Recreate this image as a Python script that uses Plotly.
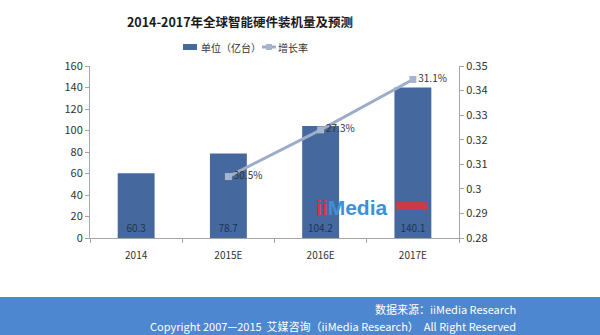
import plotly.graph_objects as go

categories = ["2014", "2015E", "2016E", "2017E"]
units = [60.3, 78.7, 104.2, 140.1]
unit_labels = ["60.3", "78.7", "104.2", "140.1"]
growth_cats = ["2015E", "2016E", "2017E"]
growth = [0.305, 0.324, 0.3445]
growth_labels = ["30.5%", "27.3%", "31.1%"]
legend_names = ["单位（亿台）", "增长率"]

FONT = "Noto Sans CJK SC, Microsoft YaHei, sans-serif"
L, R, T, B = 90, 141, 66, 97
PW, PH = 600 - L - R, 335 - T - B
BAR_COLOR = "#45689e"
LINE_COLOR = "#9dadc9"
MARK_COLOR = "#a7b4d0"


def px_x(p):
    return (p - L) / PW


def px_y(p):
    return (T + PH - p) / PH


fig = go.Figure()
fig.add_trace(go.Bar(
    x=categories, y=units, name=legend_names[0],
    marker=dict(color=BAR_COLOR, line=dict(width=0)),
    width=0.4,
    text=unit_labels, textposition="inside", insidetextanchor="start",
    textfont=dict(color="#1d3559", size=10, family=FONT),
    textangle=0,
))
fig.add_trace(go.Scatter(
    x=growth_cats, y=growth, name=legend_names[1], yaxis="y2",
    mode="lines+markers+text",
    line=dict(color=LINE_COLOR, width=3),
    marker=dict(symbol="square", size=7, color=MARK_COLOR),
    text=growth_labels, textposition="middle right",
    textfont=dict(color="#333333", size=10, family=FONT),
    cliponaxis=False,
))

fig.update_layout(
    width=600, height=335,
    margin=dict(l=L, r=R, t=T, b=B, pad=0, autoexpand=False),
    paper_bgcolor="white", plot_bgcolor="white",
    font=dict(family=FONT, size=10, color="#333333"),
    title=dict(text="<b>2014-2017年全球智能硬件装机量及预测</b>",
               x=240 / 600, xanchor="center", y=1 - 23 / 335, yanchor="middle",
               font=dict(size=12.5, color="#1a1a1a", family=FONT)),
    showlegend=False,
    xaxis=dict(showgrid=False, showline=True, linecolor="#a6a6a6", linewidth=1,
               ticks="outside", tickson="boundaries", ticklen=4, tickcolor="#a6a6a6",
               tickfont=dict(size=10, color="#333333"), range=[-0.5, 3.5],
               ticklabelstandoff=8, automargin=False),
    yaxis=dict(range=[0, 160], dtick=20, showgrid=False, showline=True,
               linecolor="#a6a6a6", ticks="outside", ticklen=4, tickcolor="#a6a6a6",
               tickfont=dict(size=11, color="#333333"), zeroline=False,
               automargin=False),
    yaxis2=dict(range=[0.28, 0.35], dtick=0.01, overlaying="y", side="right",
                showgrid=False, showline=True, linecolor="#a6a6a6",
                ticks="outside", ticklen=4, tickcolor="#a6a6a6",
                tickfont=dict(size=11, color="#333333"), zeroline=False,
                tickformat=".2~f", automargin=False),
)

# manual legend
fig.add_shape(type="rect", xref="paper", yref="paper",
              x0=px_x(183), x1=px_x(197), y0=px_y(50), y1=px_y(44),
              fillcolor=BAR_COLOR, line=dict(width=0))
fig.add_annotation(xref="paper", yref="paper", x=px_x(199), y=px_y(47),
                   xanchor="left", yanchor="middle", text=legend_names[0],
                   showarrow=False, font=dict(size=10, color="#333333", family=FONT))
fig.add_shape(type="line", xref="paper", yref="paper",
              x0=px_x(262), x1=px_x(276), y0=px_y(47), y1=px_y(47),
              line=dict(color=LINE_COLOR, width=3))
fig.add_shape(type="rect", xref="paper", yref="paper",
              x0=px_x(266), x1=px_x(272), y0=px_y(50), y1=px_y(44),
              fillcolor=MARK_COLOR, line=dict(width=0))
fig.add_annotation(xref="paper", yref="paper", x=px_x(276), y=px_y(47),
                   xanchor="left", yanchor="middle", text=legend_names[1],
                   showarrow=False, font=dict(size=10, color="#333333", family=FONT))

# footer band
fig.add_shape(type="rect", xref="paper", yref="paper",
              x0=px_x(0), x1=px_x(600), y0=px_y(335), y1=px_y(297),
              fillcolor="#4d87cf", line=dict(width=0), layer="below")
fig.add_annotation(xref="paper", yref="paper", x=px_x(518), y=px_y(309),
                   xanchor="right", yanchor="middle",
                   text="数据来源：iiMedia Research", showarrow=False,
                   font=dict(size=11, color="white", family=FONT))
fig.add_annotation(xref="paper", yref="paper", x=px_x(518), y=px_y(326),
                   xanchor="right", yanchor="middle",
                   text="Copyright 2007—2015  艾媒咨询（iiMedia Research）  All Right Reserved",
                   showarrow=False, font=dict(size=11, color="white", family=FONT))
# watermark
fig.add_annotation(xref="paper", yref="paper", x=px_x(314), y=px_y(207),
                   xanchor="left", yanchor="middle",
                   text="<b><span style='color:#e0343c'>ii</span><span style='color:#3f8fd8'>Media</span></b>",
                   showarrow=False, font=dict(size=21, family="Arial, sans-serif"))
fig.add_shape(type="rect", xref="paper", yref="paper",
              x0=px_x(396), x1=px_x(428), y0=px_y(210), y1=px_y(202),
              fillcolor="#e0343c", line=dict(width=0), opacity=0.85)

fig.write_html("out.html")
